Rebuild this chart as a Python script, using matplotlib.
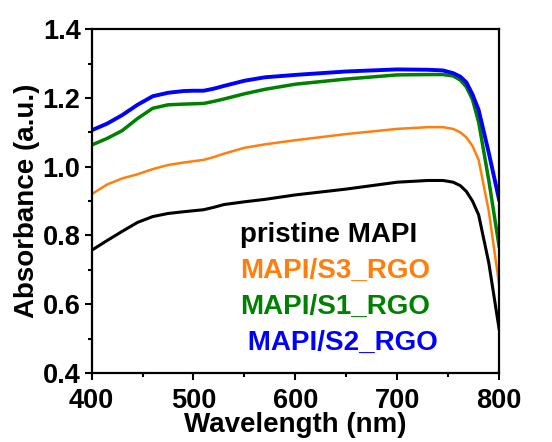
import matplotlib.pyplot as plt
from matplotlib.ticker import MultipleLocator

plt.rcParams['font.family'] = ['Liberation Sans', 'DejaVu Sans']
plt.rcParams['font.weight'] = 'bold'

wl = [400, 415, 430, 445, 460, 475, 490, 500, 510, 520, 530, 550, 570, 600, 650, 700,
      730, 745, 755, 762, 768, 774, 780, 790, 800]

pristine = [0.757, 0.785, 0.812, 0.838, 0.855, 0.864, 0.869, 0.872, 0.875, 0.882, 0.89, 0.898,
            0.905, 0.918, 0.935, 0.955, 0.96, 0.96, 0.955, 0.945, 0.928, 0.9, 0.86, 0.72, 0.53]
s3 = [0.92, 0.948, 0.966, 0.978, 0.993, 1.005, 1.012, 1.016, 1.02, 1.028, 1.038, 1.055,
      1.065, 1.077, 1.095, 1.11, 1.115, 1.115, 1.11, 1.1, 1.085, 1.06, 1.02, 0.87, 0.66]
s1 = [1.063, 1.082, 1.105, 1.14, 1.17, 1.18, 1.182, 1.183, 1.184, 1.19, 1.197, 1.212,
      1.225, 1.24, 1.255, 1.267, 1.268, 1.268, 1.264, 1.252, 1.232, 1.195, 1.13, 0.96, 0.77]
s2 = [1.106, 1.125, 1.15, 1.18, 1.205, 1.215, 1.22, 1.221, 1.221, 1.227, 1.235, 1.25,
      1.26, 1.267, 1.277, 1.283, 1.282, 1.28, 1.272, 1.262, 1.245, 1.21, 1.165, 1.04, 0.905]

labels = ['pristine MAPI', 'MAPI/S3_RGO', 'MAPI/S1_RGO', ' MAPI/S2_RGO']
colors = ['black', '#FF7F0E', '#008000', '#0000FF']
widths = [2.2, 1.8, 2.5, 2.8]

fig = plt.figure(figsize=(5.52, 4.42), dpi=100)
ax = fig.add_axes([0.166, 0.156, 0.738, 0.778])

for y, lab, c, lw in zip([pristine, s3, s1, s2], labels, colors, widths):
    ax.plot(wl, y, color=c, lw=lw, label=lab)

ax.set_xlim(400, 800)
ax.set_ylim(0.4, 1.4)
ax.xaxis.set_major_locator(MultipleLocator(100))
ax.xaxis.set_minor_locator(MultipleLocator(50))
ax.yaxis.set_major_locator(MultipleLocator(0.2))
ax.yaxis.set_minor_locator(MultipleLocator(0.1))
ax.tick_params(which='both', direction='out', width=1.5, labelsize=19.5,
               top=False, right=False)
ax.tick_params(axis='x', pad=6)
ax.tick_params(axis='y', pad=3)
ax.tick_params(which='major', length=5)
ax.tick_params(which='minor', length=3)
for s in ax.spines.values():
    s.set_linewidth(1.6)

ax.set_xlabel('Wavelength (nm)', fontsize=20, fontweight='bold')
ax.xaxis.set_label_coords(0.5, -0.113)
ax.set_ylabel('Absorbance (a.u.)', fontsize=20, fontweight='bold', labelpad=2)

leg = ax.legend(loc='upper left', bbox_to_anchor=(240 / 552, 1 - 222 / 442),
                bbox_transform=fig.transFigure, frameon=False, borderpad=0,
                borderaxespad=0, handlelength=0, handletextpad=0,
                labelcolor='linecolor', prop={'size': 20, 'weight': 'bold'},
                labelspacing=0.36)
for h in leg.legend_handles:
    h.set_visible(False)

fig.savefig('out.png', dpi=100)
